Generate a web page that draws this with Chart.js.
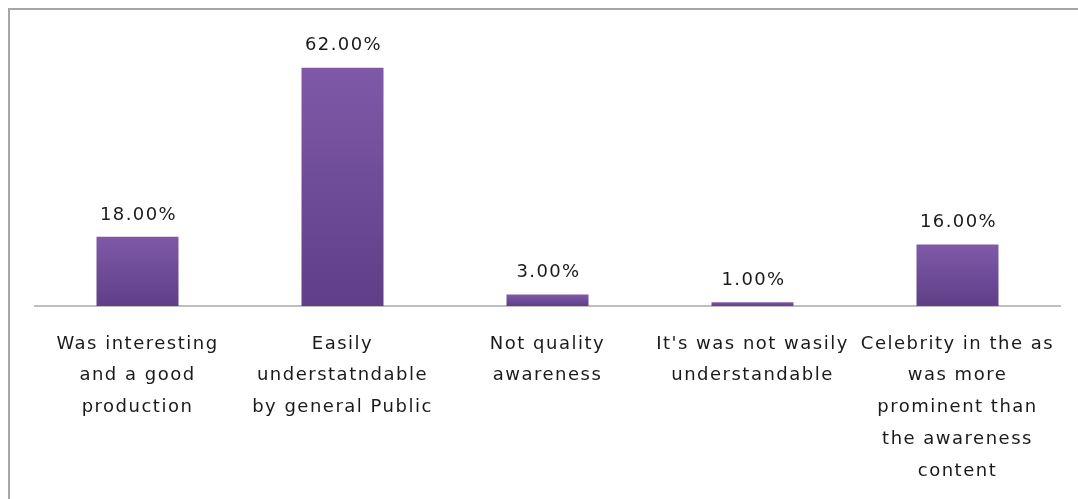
<!DOCTYPE html>
<html>
<head>
<meta charset="utf-8">
<script src="https://cdn.jsdelivr.net/npm/chart.js@4/dist/chart.umd.min.js"></script>
<style>
html,body{margin:0;padding:0;background:#fff;overflow:hidden;}
#wrap{position:absolute;left:0;top:0;width:1078px;height:499px;}
</style>
</head>
<body>
<div id="wrap"><canvas id="c" width="1078" height="499"></canvas></div>
<script>
const categories = [
  ["Was interesting", "and a good", "production"],
  ["Easily", "understatndable", "by general Public"],
  ["Not quality", "awareness"],
  ["It's was not wasily", "understandable"],
  ["Celebrity in the as", "was more", "prominent than", "the awareness", "content"]
];
const values = [18, 62, 3, 1, 16];
const valueLabels = ["18.00%", "62.00%", "3.00%", "1.00%", "16.00%"];

const FONT = "'DejaVu Sans', 'Open Sans', sans-serif";
const SPACING = '1.5px';

const framePlugin = {
  id: 'frame',
  beforeDraw(chart) {
    const ctx = chart.ctx;
    ctx.save();
    ctx.fillStyle = '#fff';
    ctx.fillRect(0, 0, chart.width, chart.height);
    ctx.strokeStyle = '#a6a6a6';
    ctx.lineWidth = 2;
    ctx.strokeRect(9, 9, chart.width + 20, chart.height + 20);
    ctx.restore();
    ctx.letterSpacing = SPACING;
  }
};

const labelPlugin = {
  id: 'valueLabels',
  afterDatasetsDraw(chart) {
    const ctx = chart.ctx;
    const meta = chart.getDatasetMeta(0);
    ctx.save();
    ctx.letterSpacing = '1.4px';
    ctx.font = "18px " + FONT;
    ctx.fillStyle = '#1a1a1a';
    ctx.textAlign = 'center';
    ctx.textBaseline = 'middle';
    meta.data.forEach((bar, i) => {
      ctx.fillText(valueLabels[i], bar.x + 1, bar.y - 22);
    });
    ctx.restore();
  }
};

new Chart(document.getElementById('c'), {
  type: 'bar',
  data: {
    labels: categories,
    datasets: [{
      data: values,
      backgroundColor(ctx) {
        const ys = ctx.chart.scales && ctx.chart.scales.y;
        if (!ys || ctx.dataIndex === undefined) return '#6f4c98';
        const top = ys.getPixelForValue(ctx.raw);
        const bottom = ys.getPixelForValue(0);
        if (!isFinite(top) || !isFinite(bottom) || bottom - top < 1) return '#6f4c98';
        const g = ctx.chart.ctx.createLinearGradient(0, top, 0, bottom);
        g.addColorStop(0, '#7f59a8');
        g.addColorStop(1, '#5f3f87');
        return g;
      },
      borderWidth: 0,
      barPercentage: 0.4,
      categoryPercentage: 1.0
    }]
  },
  options: {
    responsive: false,
    animation: false,
    layout: { padding: { left: 35, right: 18, top: 37, bottom: 0 } },
    plugins: { legend: { display: false }, tooltip: { enabled: false } },
    scales: {
      x: {
        grid: { display: false, drawTicks: false },
        border: { display: true, color: '#bfbfbf', width: 2 },
        ticks: {
          color: '#1a1a1a',
          font: { family: FONT, size: 18, lineHeight: 1.77 },
          padding: 22,
          maxRotation: 0,
          autoSkip: false
        },
        afterFit(scale) { scale.height = 193; }
      },
      y: {
        display: false,
        min: 0,
        max: 70
      }
    }
  },
  plugins: [framePlugin, labelPlugin]
});
</script>
</body>
</html>
